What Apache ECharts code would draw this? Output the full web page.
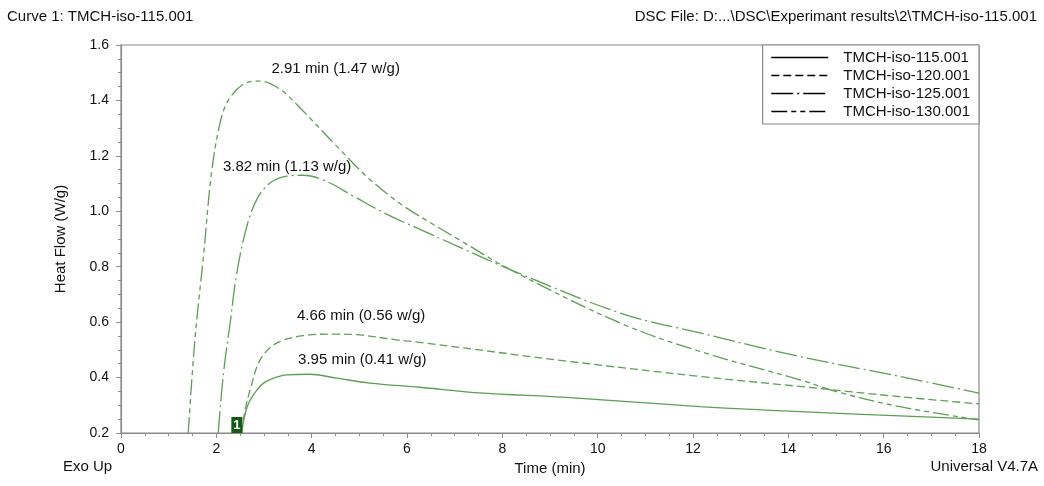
<!DOCTYPE html>
<html>
<head>
<meta charset="utf-8">
<script src="https://cdn.jsdelivr.net/npm/echarts@6/dist/echarts.min.js"></script>
<style>
html,body{margin:0;padding:0;background:#fff;}
#chart{width:1044px;height:486px;}
</style>
</head>
<body>
<div id="chart"></div>
<script>
// ---------- data ----------
const seriesNames = ['TMCH-iso-115.001','TMCH-iso-120.001','TMCH-iso-125.001','TMCH-iso-130.001'];

const t115 = [2.53, 2.58, 2.64, 2.71, 2.85, 2.99, 3.20, 3.48, 3.96, 4.52, 5.22, 6.27, 7.50, 9.42, 12.15, 14.24, 16.34, 18.0];
const v115 = [0.20, 0.25, 0.29, 0.319, 0.355, 0.38, 0.398, 0.41, 0.412, 0.398, 0.38, 0.365, 0.345, 0.328, 0.295, 0.277, 0.262, 0.25];

const t120 = [2.53, 2.60, 2.71, 2.92, 3.27, 3.82, 4.52, 4.94, 5.78, 6.27, 9.42, 12.15, 14.24, 16.34, 18.0];
const v120 = [0.20, 0.28, 0.356, 0.464, 0.525, 0.551, 0.557, 0.555, 0.536, 0.527, 0.458, 0.404, 0.368, 0.331, 0.305];

const t125 = [2.04, 2.15, 2.29, 2.43, 2.64, 2.85, 3.13, 3.48, 3.82, 4.31, 4.87, 5.57, 6.40, 7.11, 8.16, 10.47, 12.15, 14.24, 16.34, 18.0];
const v125 = [0.20, 0.416, 0.597, 0.778, 0.946, 1.043, 1.103, 1.127, 1.13, 1.108, 1.055, 0.99, 0.925, 0.87, 0.79, 0.633, 0.561, 0.476, 0.404, 0.344];

const t130 = [1.41, 1.55, 1.73, 1.90, 2.08, 2.25, 2.57, 2.91, 3.34, 3.83, 4.52, 5.22, 5.92, 6.48, 7.11, 8.16, 10.47, 12.15, 14.24, 15.08, 16.34, 18.0];
const v130 = [0.20, 0.536, 0.838, 1.14, 1.32, 1.40, 1.459, 1.47, 1.44, 1.36, 1.236, 1.115, 1.02, 0.96, 0.896, 0.79, 0.597, 0.494, 0.392, 0.346, 0.295, 0.247];

const peakTime = [3.95, 4.66, 3.82, 2.91];
const peakFlow = [0.41, 0.56, 1.13, 1.47];

const xTicks = [0, 2, 4, 6, 8, 10, 12, 14, 16, 18];
const yTicks = [0.2, 0.4, 0.6, 0.8, 1.0, 1.2, 1.4, 1.6];
const curveStart = [2.43, 0.2];

// ---------- chart ----------
const FONT = '"Liberation Sans", Arial, sans-serif';
const GREEN = '#5c9e55';
const pairs = (ts, vs) => ts.map((t, i) => [t, vs[i]]);
const allT = [t115, t120, t125, t130];
const allV = [v115, v120, v125, v130];
const dashes = ['solid', [8, 4], [22, 4, 2, 4], [16, 4, 5, 4, 5, 4]];
const labelOffsets = [[53, -15], [18, -17], [-16, -8], [76, -12]];

const series = seriesNames.map((name, i) => {
  const s = {
    name: name,
    type: 'line',
    data: pairs(allT[i], allV[i]),
    showSymbol: false,
    symbol: 'none',
    smooth: 0.35,
    lineStyle: { color: GREEN, width: 1.3, type: dashes[i] },
    itemStyle: { color: GREEN },
    z: 3,
    markPoint: {
      silent: true,
      symbol: 'circle',
      symbolSize: 0,
      data: [{
        coord: [peakTime[i], peakFlow[i]],
        label: {
          show: true,
          position: 'inside',
          offset: labelOffsets[i],
          formatter: peakTime[i].toFixed(2) + ' min (' + peakFlow[i].toFixed(2) + ' w/g)',
          color: '#111',
          fontFamily: FONT,
          fontSize: 15
        }
      }]
    }
  };
  if (i === 0) {
    s.markPoint.data.push({
      coord: curveStart,
      symbol: 'rect',
      symbolSize: [11, 16],
      symbolOffset: [0, -8],
      itemStyle: { color: '#145a14' },
      label: {
        show: true, position: 'inside', formatter: '1',
        color: '#fff', fontFamily: FONT, fontSize: 13, fontWeight: 'bold'
      }
    });
  }
  return s;
});

const chart = echarts.init(document.getElementById('chart'), null, { renderer: 'canvas' });
chart.setOption({
  animation: false,
  backgroundColor: '#fff',
  textStyle: { fontFamily: FONT },
  grid: {
    left: 121, right: 65, top: 45, bottom: 53,
    show: true, borderColor: '#8a8a8a', borderWidth: 1.2, backgroundColor: 'transparent'
  },
  graphic: [
    { type: 'text', left: 7, top: 9, style: { text: 'Curve 1: TMCH-iso-115.001', font: '15px ' + FONT, fill: '#111' } },
    { type: 'text', right: 7, top: 9, style: { text: 'DSC File: D:...\\DSC\\Experimant results\\2\\TMCH-iso-115.001', font: '15px ' + FONT, fill: '#111' } },
    { type: 'text', left: 63, top: 459, style: { text: 'Exo Up', font: '15px ' + FONT, fill: '#111' } },
    { type: 'text', right: 6, top: 459, style: { text: 'Universal V4.7A', font: '15px ' + FONT, fill: '#111' } }
  ],
  legend: {
    orient: 'vertical',
    right: 65, top: 45,
    padding: [5, 9, 5, 8],
    itemWidth: 57, itemHeight: 14, itemGap: 3,
    backgroundColor: '#fff',
    borderColor: '#8a8a8a', borderWidth: 1.2,
    itemStyle: { color: 'rgba(0,0,0,0)', borderColor: 'rgba(0,0,0,0)', borderWidth: 0, opacity: 0 },
    lineStyle: { color: '#000', width: 1.3 },
    textStyle: { fontFamily: FONT, fontSize: 15, color: '#111', padding: [0, 0, 0, 10] },
    data: seriesNames
  },
  xAxis: {
    type: 'value',
    min: xTicks[0], max: xTicks[xTicks.length - 1], interval: 2,
    name: 'Time (min)', nameLocation: 'middle', nameGap: 26,
    nameTextStyle: { fontFamily: FONT, fontSize: 15, color: '#111' },
    axisLine: { show: true, lineStyle: { color: '#8a8a8a', width: 1.2 } },
    axisTick: { show: true, length: 5, lineStyle: { color: '#8a8a8a' } },
    minorTick: { show: true, splitNumber: 4, length: 3, lineStyle: { color: '#8a8a8a' } },
    axisLabel: { fontFamily: FONT, fontSize: 14, color: '#111', margin: 9 },
    splitLine: { show: false }
  },
  yAxis: {
    type: 'value',
    min: yTicks[0], max: yTicks[yTicks.length - 1], interval: 0.2,
    name: 'Heat Flow (W/g)', nameLocation: 'middle', nameGap: 53,
    nameTextStyle: { fontFamily: FONT, fontSize: 15, color: '#111' },
    axisLine: { show: true, lineStyle: { color: '#8a8a8a', width: 1.2 } },
    axisTick: { show: true, length: 5, lineStyle: { color: '#8a8a8a' } },
    minorTick: { show: true, splitNumber: 4, length: 3, lineStyle: { color: '#8a8a8a' } },
    axisLabel: { fontFamily: FONT, fontSize: 14, color: '#111', margin: 12, formatter: v => v.toFixed(1) },
    splitLine: { show: false }
  },
  series: series
});
</script>
</body>
</html>
